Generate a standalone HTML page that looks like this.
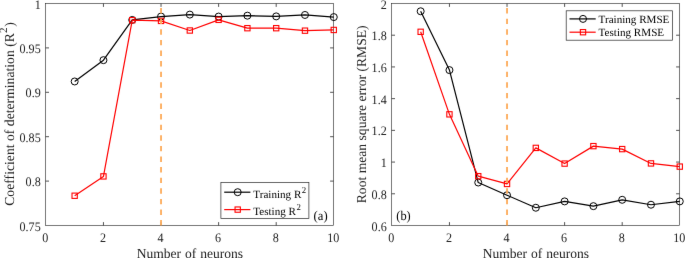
<!DOCTYPE html>
<html><head><meta charset="utf-8"><title>Number of neurons</title>
<style>html,body{margin:0;padding:0;background:#fff}svg{display:block}.t{font-family:"Liberation Serif",serif;text-rendering:geometricPrecision}</style></head>
<body><svg width="685" height="258" viewBox="0 0 685 258">
<defs><filter id="soft" x="0" y="0" width="685" height="258" filterUnits="userSpaceOnUse" color-interpolation-filters="sRGB"><feConvolveMatrix order="3" kernelMatrix="0.00276 0.04704 0.00276 0.04704 0.80077 0.04704 0.00276 0.04704 0.00276" edgeMode="duplicate" preserveAlpha="false"/></filter></defs>
<rect width="685" height="258" fill="#fff"/>
<g filter="url(#soft)"><rect width="685" height="258" fill="#fff"/>
<rect x="45.6" y="3.5" width="287.90" height="222.00" fill="#fff" stroke="#262626" stroke-width="0.62"/>
<text transform="translate(45.37,241.60) scale(0.93,1)" text-anchor="middle" font-size="13.0" fill="#222" class="t">0</text>
<path d="M103.45 225.5v-3.4M103.45 3.5v3.4" stroke="#262626" stroke-width="0.8"/>
<text transform="translate(102.95,241.60) scale(0.93,1)" text-anchor="middle" font-size="13.0" fill="#222" class="t">2</text>
<path d="M161.03 225.5v-3.4M161.03 3.5v3.4" stroke="#262626" stroke-width="0.8"/>
<text transform="translate(160.53,241.60) scale(0.93,1)" text-anchor="middle" font-size="13.0" fill="#222" class="t">4</text>
<path d="M218.61 225.5v-3.4M218.61 3.5v3.4" stroke="#262626" stroke-width="0.8"/>
<text transform="translate(218.11,241.60) scale(0.93,1)" text-anchor="middle" font-size="13.0" fill="#222" class="t">6</text>
<path d="M276.19 225.5v-3.4M276.19 3.5v3.4" stroke="#262626" stroke-width="0.8"/>
<text transform="translate(275.69,241.60) scale(0.93,1)" text-anchor="middle" font-size="13.0" fill="#222" class="t">8</text>
<text transform="translate(333.27,241.60) scale(0.93,1)" text-anchor="middle" font-size="13.0" fill="#222" class="t">10</text>
<text transform="translate(40.70,230.50) scale(0.93,1)" text-anchor="end" font-size="13.0" fill="#222" class="t">0.75</text>
<path d="M45.6 181.10h3.4M333.5 181.10h-3.4" stroke="#262626" stroke-width="0.8"/>
<text transform="translate(40.70,186.10) scale(0.93,1)" text-anchor="end" font-size="13.0" fill="#222" class="t">0.8</text>
<path d="M45.6 136.70h3.4M333.5 136.70h-3.4" stroke="#262626" stroke-width="0.8"/>
<text transform="translate(40.70,141.70) scale(0.93,1)" text-anchor="end" font-size="13.0" fill="#222" class="t">0.85</text>
<path d="M45.6 92.30h3.4M333.5 92.30h-3.4" stroke="#262626" stroke-width="0.8"/>
<text transform="translate(40.70,97.30) scale(0.93,1)" text-anchor="end" font-size="13.0" fill="#222" class="t">0.9</text>
<path d="M45.6 47.90h3.4M333.5 47.90h-3.4" stroke="#262626" stroke-width="0.8"/>
<text transform="translate(40.70,52.90) scale(0.93,1)" text-anchor="end" font-size="13.0" fill="#222" class="t">0.95</text>
<text transform="translate(40.70,8.50) scale(0.93,1)" text-anchor="end" font-size="13.0" fill="#222" class="t">1</text>
<text transform="translate(189.85,257.60) scale(0.985,1)" text-anchor="middle" word-spacing="0.5" font-size="13.75" fill="#222" class="t">Number of neurons</text>
<text transform="translate(14,114.00) rotate(-90)" text-anchor="middle" font-size="13.7" fill="#222" class="t">Coefficient of determination (R<tspan dy="-6.7" font-size="11">2</tspan><tspan dx="0.8" dy="6.7">)</tspan></text>
<polyline fill="none" stroke="#000" stroke-width="1.2" stroke-linejoin="round" points="74.66,81.47 103.45,60.15 132.24,19.93 161.03,16.55 189.82,14.60 218.61,16.55 247.40,15.67 276.19,16.38 304.98,14.96 333.77,17.09"/>
<circle cx="74.66" cy="81.47" r="3.5" fill="none" stroke="#000" stroke-width="1.0"/>
<circle cx="103.45" cy="60.15" r="3.5" fill="none" stroke="#000" stroke-width="1.0"/>
<circle cx="132.24" cy="19.93" r="3.5" fill="none" stroke="#000" stroke-width="1.0"/>
<circle cx="161.03" cy="16.55" r="3.5" fill="none" stroke="#000" stroke-width="1.0"/>
<circle cx="189.82" cy="14.60" r="3.5" fill="none" stroke="#000" stroke-width="1.0"/>
<circle cx="218.61" cy="16.55" r="3.5" fill="none" stroke="#000" stroke-width="1.0"/>
<circle cx="247.40" cy="15.67" r="3.5" fill="none" stroke="#000" stroke-width="1.0"/>
<circle cx="276.19" cy="16.38" r="3.5" fill="none" stroke="#000" stroke-width="1.0"/>
<circle cx="304.98" cy="14.96" r="3.5" fill="none" stroke="#000" stroke-width="1.0"/>
<circle cx="333.77" cy="17.09" r="3.5" fill="none" stroke="#000" stroke-width="1.0"/>
<polyline fill="none" stroke="#f00" stroke-width="1.2" stroke-linejoin="round" points="74.66,195.75 103.45,176.39 132.24,20.19 161.03,20.90 189.82,30.50 218.61,19.84 247.40,28.19 276.19,28.19 304.98,30.67 333.77,29.96"/>
<rect x="72.01" y="193.10" width="5.3" height="5.3" fill="none" stroke="#f00" stroke-width="1.1"/>
<rect x="100.80" y="173.74" width="5.3" height="5.3" fill="none" stroke="#f00" stroke-width="1.1"/>
<rect x="129.59" y="17.54" width="5.3" height="5.3" fill="none" stroke="#f00" stroke-width="1.1"/>
<rect x="158.38" y="18.25" width="5.3" height="5.3" fill="none" stroke="#f00" stroke-width="1.1"/>
<rect x="187.17" y="27.85" width="5.3" height="5.3" fill="none" stroke="#f00" stroke-width="1.1"/>
<rect x="215.96" y="17.19" width="5.3" height="5.3" fill="none" stroke="#f00" stroke-width="1.1"/>
<rect x="244.75" y="25.54" width="5.3" height="5.3" fill="none" stroke="#f00" stroke-width="1.1"/>
<rect x="273.54" y="25.54" width="5.3" height="5.3" fill="none" stroke="#f00" stroke-width="1.1"/>
<rect x="302.33" y="28.02" width="5.3" height="5.3" fill="none" stroke="#f00" stroke-width="1.1"/>
<rect x="331.12" y="27.31" width="5.3" height="5.3" fill="none" stroke="#f00" stroke-width="1.1"/>
<path d="M161.03 225.5V3.5" stroke="#fdab59" stroke-width="1.8" stroke-dasharray="5.4 5.2" fill="none"/>
<rect x="391.6" y="3.5" width="287.90" height="222.00" fill="#fff" stroke="#262626" stroke-width="0.62"/>
<text transform="translate(391.37,241.60) scale(0.93,1)" text-anchor="middle" font-size="13.0" fill="#222" class="t">0</text>
<path d="M449.45 225.5v-3.4M449.45 3.5v3.4" stroke="#262626" stroke-width="0.8"/>
<text transform="translate(448.95,241.60) scale(0.93,1)" text-anchor="middle" font-size="13.0" fill="#222" class="t">2</text>
<path d="M507.03 225.5v-3.4M507.03 3.5v3.4" stroke="#262626" stroke-width="0.8"/>
<text transform="translate(506.53,241.60) scale(0.93,1)" text-anchor="middle" font-size="13.0" fill="#222" class="t">4</text>
<path d="M564.61 225.5v-3.4M564.61 3.5v3.4" stroke="#262626" stroke-width="0.8"/>
<text transform="translate(564.11,241.60) scale(0.93,1)" text-anchor="middle" font-size="13.0" fill="#222" class="t">6</text>
<path d="M622.19 225.5v-3.4M622.19 3.5v3.4" stroke="#262626" stroke-width="0.8"/>
<text transform="translate(621.69,241.60) scale(0.93,1)" text-anchor="middle" font-size="13.0" fill="#222" class="t">8</text>
<text transform="translate(679.27,241.60) scale(0.93,1)" text-anchor="middle" font-size="13.0" fill="#222" class="t">10</text>
<text transform="translate(386.70,230.50) scale(0.93,1)" text-anchor="end" font-size="13.0" fill="#222" class="t">0.6</text>
<path d="M391.6 193.79h3.4M679.5 193.79h-3.4" stroke="#262626" stroke-width="0.8"/>
<text transform="translate(386.70,198.79) scale(0.93,1)" text-anchor="end" font-size="13.0" fill="#222" class="t">0.8</text>
<path d="M391.6 162.07h3.4M679.5 162.07h-3.4" stroke="#262626" stroke-width="0.8"/>
<text transform="translate(386.70,167.07) scale(0.93,1)" text-anchor="end" font-size="13.0" fill="#222" class="t">1</text>
<path d="M391.6 130.36h3.4M679.5 130.36h-3.4" stroke="#262626" stroke-width="0.8"/>
<text transform="translate(386.70,135.36) scale(0.93,1)" text-anchor="end" font-size="13.0" fill="#222" class="t">1.2</text>
<path d="M391.6 98.64h3.4M679.5 98.64h-3.4" stroke="#262626" stroke-width="0.8"/>
<text transform="translate(386.70,103.64) scale(0.93,1)" text-anchor="end" font-size="13.0" fill="#222" class="t">1.4</text>
<path d="M391.6 66.93h3.4M679.5 66.93h-3.4" stroke="#262626" stroke-width="0.8"/>
<text transform="translate(386.70,71.93) scale(0.93,1)" text-anchor="end" font-size="13.0" fill="#222" class="t">1.6</text>
<path d="M391.6 35.21h3.4M679.5 35.21h-3.4" stroke="#262626" stroke-width="0.8"/>
<text transform="translate(386.70,40.21) scale(0.93,1)" text-anchor="end" font-size="13.0" fill="#222" class="t">1.8</text>
<text transform="translate(386.70,8.50) scale(0.93,1)" text-anchor="end" font-size="13.0" fill="#222" class="t">2</text>
<text transform="translate(535.85,257.60) scale(0.985,1)" text-anchor="middle" word-spacing="0.5" font-size="13.75" fill="#222" class="t">Number of neurons</text>
<text transform="translate(365.9,114.35) rotate(-90)" text-anchor="middle" font-size="13.64" fill="#222" class="t">Root mean square error (RMSE)</text>
<polyline fill="none" stroke="#000" stroke-width="1.2" stroke-linejoin="round" points="420.66,11.27 449.45,70.10 478.24,182.53 507.03,195.21 535.82,207.74 564.61,201.40 593.40,206.15 622.19,199.81 650.98,204.73 679.77,201.40"/>
<circle cx="420.66" cy="11.27" r="3.5" fill="none" stroke="#000" stroke-width="1.0"/>
<circle cx="449.45" cy="70.10" r="3.5" fill="none" stroke="#000" stroke-width="1.0"/>
<circle cx="478.24" cy="182.53" r="3.5" fill="none" stroke="#000" stroke-width="1.0"/>
<circle cx="507.03" cy="195.21" r="3.5" fill="none" stroke="#000" stroke-width="1.0"/>
<circle cx="535.82" cy="207.74" r="3.5" fill="none" stroke="#000" stroke-width="1.0"/>
<circle cx="564.61" cy="201.40" r="3.5" fill="none" stroke="#000" stroke-width="1.0"/>
<circle cx="593.40" cy="206.15" r="3.5" fill="none" stroke="#000" stroke-width="1.0"/>
<circle cx="622.19" cy="199.81" r="3.5" fill="none" stroke="#000" stroke-width="1.0"/>
<circle cx="650.98" cy="204.73" r="3.5" fill="none" stroke="#000" stroke-width="1.0"/>
<circle cx="679.77" cy="201.40" r="3.5" fill="none" stroke="#000" stroke-width="1.0"/>
<polyline fill="none" stroke="#f00" stroke-width="1.2" stroke-linejoin="round" points="420.66,31.81 449.45,114.34 478.24,176.18 507.03,183.95 535.82,147.90 564.61,163.59 593.40,146.13 622.19,149.10 650.98,163.42 679.77,166.61"/>
<rect x="418.01" y="29.16" width="5.3" height="5.3" fill="none" stroke="#f00" stroke-width="1.1"/>
<rect x="446.80" y="111.69" width="5.3" height="5.3" fill="none" stroke="#f00" stroke-width="1.1"/>
<rect x="475.59" y="173.53" width="5.3" height="5.3" fill="none" stroke="#f00" stroke-width="1.1"/>
<rect x="504.38" y="181.30" width="5.3" height="5.3" fill="none" stroke="#f00" stroke-width="1.1"/>
<rect x="533.17" y="145.25" width="5.3" height="5.3" fill="none" stroke="#f00" stroke-width="1.1"/>
<rect x="561.96" y="160.94" width="5.3" height="5.3" fill="none" stroke="#f00" stroke-width="1.1"/>
<rect x="590.75" y="143.48" width="5.3" height="5.3" fill="none" stroke="#f00" stroke-width="1.1"/>
<rect x="619.54" y="146.45" width="5.3" height="5.3" fill="none" stroke="#f00" stroke-width="1.1"/>
<rect x="648.33" y="160.77" width="5.3" height="5.3" fill="none" stroke="#f00" stroke-width="1.1"/>
<rect x="677.12" y="163.96" width="5.3" height="5.3" fill="none" stroke="#f00" stroke-width="1.1"/>
<path d="M507.03 225.5V3.5" stroke="#fdab59" stroke-width="1.8" stroke-dasharray="5.4 5.2" fill="none"/>
<rect x="220.9" y="182.6" width="88.0" height="35.8" fill="#fff" stroke="#262626" stroke-width="0.7"/>
<path d="M224.20 192.20h26.2" stroke="#000" stroke-width="1.2"/>
<circle cx="237.70" cy="192.20" r="3.5" fill="none" stroke="#000" stroke-width="1.0"/>
<text x="253.30" y="198.30" font-size="11.1" fill="#000" class="t">Training R<tspan dx="0.4" dy="-5.6" font-size="8.8">2</tspan></text>
<path d="M224.20 209.60h26.2" stroke="#f00" stroke-width="1.2"/>
<rect x="235.05" y="206.95" width="5.3" height="5.3" fill="none" stroke="#f00" stroke-width="1.1"/>
<text x="253.30" y="215.40" font-size="11.1" fill="#000" class="t">Testing R<tspan dx="0.4" dy="-5.6" font-size="8.8">2</tspan></text>
<rect x="566.2" y="10.8" width="106.3" height="29.4" fill="#fff" stroke="#262626" stroke-width="0.7"/>
<path d="M569.50 18.90h26.2" stroke="#000" stroke-width="1.2"/>
<circle cx="583.00" cy="18.90" r="3.5" fill="none" stroke="#000" stroke-width="1.0"/>
<text x="598.60" y="22.60" font-size="11.1" fill="#000" class="t">Training RMSE</text>
<path d="M569.50 32.20h26.2" stroke="#f00" stroke-width="1.2"/>
<rect x="580.35" y="29.55" width="5.3" height="5.3" fill="none" stroke="#f00" stroke-width="1.1"/>
<text x="598.60" y="35.90" font-size="11.1" fill="#000" class="t">Testing RMSE</text>
<text transform="translate(313.6,219.6) scale(0.95,1)" font-size="13.3" fill="#000" class="t">(a)</text>
<text transform="translate(396.3,220) scale(0.93,1)" font-size="13.3" fill="#000" class="t">(b)</text>
</g></svg></body></html>
